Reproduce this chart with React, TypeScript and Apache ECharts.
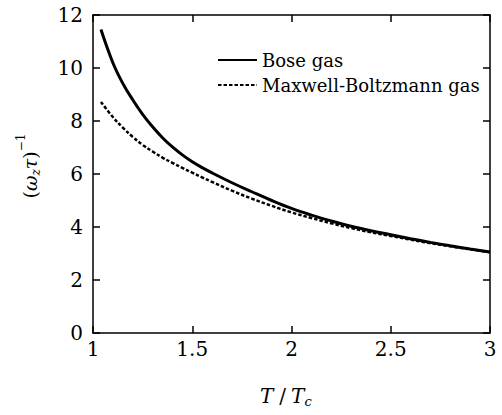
import React, { useEffect, useRef } from "react";
import * as echarts from "echarts";

// T / Tc values (x) and relaxation values (y)
const tOverTc = [1.04, 1.1, 1.15, 1.2, 1.25, 1.3, 1.35, 1.4, 1.45, 1.5, 1.55, 1.6, 1.7, 1.8, 1.9, 2.0, 2.1, 2.2, 2.3, 2.4, 2.5, 2.6, 2.7, 2.8, 2.9, 3.0];
const boseGas = [11.45, 10.2, 9.42, 8.8, 8.25, 7.78, 7.37, 7.02, 6.72, 6.46, 6.24, 6.04, 5.67, 5.33, 5.0, 4.7, 4.45, 4.23, 4.03, 3.86, 3.71, 3.56, 3.42, 3.29, 3.17, 3.06];
const maxwellBoltzmannGas = [8.72, 8.15, 7.75, 7.4, 7.1, 6.85, 6.62, 6.42, 6.23, 6.05, 5.87, 5.7, 5.37, 5.07, 4.8, 4.55, 4.34, 4.14, 3.96, 3.8, 3.66, 3.52, 3.39, 3.27, 3.16, 3.05];
const seriesNames = ["Bose gas", "Maxwell-Boltzmann gas"];

const SERIF = "DejaVu Serif";

function measure(text: string, font: string): number {
  const ctx = document.createElement("canvas").getContext("2d");
  if (!ctx) return text.length * 10;
  ctx.font = font;
  return ctx.measureText(text).width;
}

type Piece = { text: string; size: number; italic?: boolean; dy?: number; gap?: number };

function buildPieces(pieces: Piece[], centered: boolean) {
  const fonts = pieces.map((p) => `${p.italic ? "italic " : ""}${p.size}px 'DejaVu Serif'`);
  const widths = pieces.map((p, i) => measure(p.text, fonts[i]) + (p.gap || 0));
  const total = widths.reduce((a, b) => a + b, 0);
  let cursor = centered ? -total / 2 : 0;
  return pieces.map((p, i) => {
    const el = {
      type: "text",
      x: cursor,
      y: p.dy || 0,
      style: {
        text: p.text,
        font: fonts[i],
        fill: "#000",
        textAlign: "left",
        textVerticalAlign: "middle",
      },
    };
    cursor += widths[i];
    return el;
  });
}

const labelFont = {
  color: "#000",
  fontFamily: SERIF,
  fontStyle: "normal",
  fontWeight: "normal",
  fontSize: 20,
};

function makeXAxis(position: "bottom" | "top", showLabels: boolean) {
  return {
    type: "value",
    position,
    min: 1,
    max: 3,
    interval: 0.5,
    splitLine: { show: false },
    axisLine: { show: true, onZero: false, lineStyle: { color: "#000", width: 1.5 } },
    axisTick: { show: true, inside: true, length: 7, lineStyle: { color: "#000", width: 1.5 } },
    axisLabel: { show: showLabels, margin: 6, ...labelFont },
  };
}

function makeYAxis(position: "left" | "right", showLabels: boolean) {
  return {
    type: "value",
    position,
    min: 0,
    max: 12,
    interval: 2,
    splitLine: { show: false },
    axisLine: { show: true, onZero: false, lineStyle: { color: "#000", width: 1.5 } },
    axisTick: { show: true, inside: true, length: 7, lineStyle: { color: "#000", width: 1.5 } },
    axisLabel: { show: showLabels, margin: 10, ...labelFont },
  };
}

export default function App() {
  const ref = useRef<HTMLDivElement>(null);

  useEffect(() => {
    if (!ref.current) return;
    const chart = echarts.init(ref.current, undefined, { renderer: "svg" });

    const yTitle = buildPieces(
      [
        { text: "(", size: 19 },
        { text: "ω", size: 19, italic: true },
        { text: "z", size: 12, italic: true, dy: 6 },
        { text: "τ", size: 19, italic: true },
        { text: ")", size: 19 },
        { text: "−1", size: 12, dy: -9 },
      ],
      true
    );
    const xTitle = buildPieces(
      [
        { text: "T", size: 20, italic: true, gap: 6 },
        { text: "/", size: 20, gap: 5 },
        { text: "T", size: 20, italic: true },
        { text: "c", size: 13, italic: true, dy: 5 },
      ],
      false
    );

    chart.setOption({
      animation: false,
      backgroundColor: "#fff",
      grid: { left: 93, top: 15, right: 12, bottom: 82, containLabel: false },
      xAxis: [makeXAxis("bottom", true), makeXAxis("top", false)],
      yAxis: [makeYAxis("left", true), makeYAxis("right", false)],
      legend: {
        orient: "vertical",
        left: 217,
        top: 51,
        padding: 0,
        itemWidth: 39,
        itemHeight: 3,
        itemGap: 7,
        itemStyle: { color: "rgba(0,0,0,0)", borderWidth: 0, opacity: 0 },
        textStyle: { ...labelFont, fontSize: 18 },
        data: seriesNames,
      },
      series: [
        {
          name: seriesNames[0],
          type: "line",
          smooth: 0.4,
          symbol: "none",
          xAxisIndex: 0,
          yAxisIndex: 0,
          lineStyle: { color: "#000", width: 3, type: "solid" },
          itemStyle: { color: "#000" },
          data: tOverTc.map((t, i) => [t, boseGas[i]]),
        },
        {
          name: seriesNames[1],
          type: "line",
          smooth: 0.4,
          symbol: "none",
          xAxisIndex: 0,
          yAxisIndex: 0,
          lineStyle: { color: "#000", width: 2.5, type: [3.5, 2] },
          itemStyle: { color: "#000" },
          data: tOverTc.map((t, i) => [t, maxwellBoltzmannGas[i]]),
        },
      ],
      graphic: [
        {
          type: "group",
          x: 30,
          y: 166,
          rotation: Math.PI / 2,
          children: yTitle,
        },
        {
          type: "group",
          x: 260,
          y: 396,
          children: xTitle,
        },
      ],
    });

    return () => chart.dispose();
  }, []);

  return (
    <div
      ref={ref}
      style={{ position: "fixed", left: 0, top: 0, width: 502, height: 415, background: "#fff" }}
    />
  );
}
